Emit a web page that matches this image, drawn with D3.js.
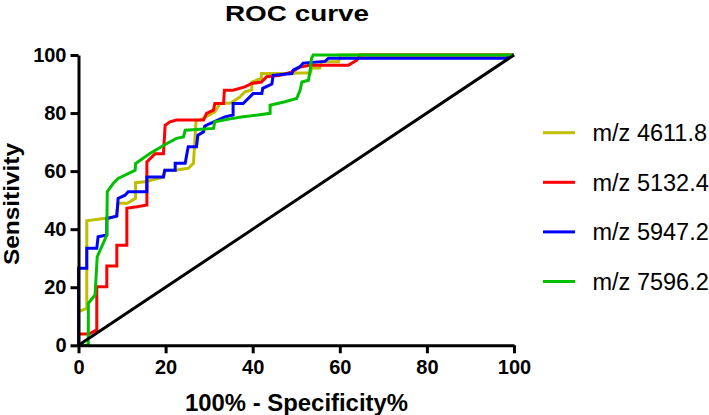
<!DOCTYPE html>
<html>
<head>
<meta charset="utf-8">
<script src="https://cdn.jsdelivr.net/npm/d3@7"></script>
<style>
  html, body { margin: 0; padding: 0; background: #ffffff; }
  svg { display: block; font-family: "Liberation Sans", Arial, sans-serif; }
</style>
</head>
<body>
<svg id="chart" width="709" height="415"></svg>
<script>
// ---- data (x = 100% - Specificity%, y = Sensitivity%) ----
const seriesNames = ["m/z 4611.8", "m/z 5132.4", "m/z 5947.2", "m/z 7596.2"];
const seriesColors = ["#bfbf00", "#ff0000", "#0000ff", "#00c000"];

const fpr_4611 = [0, 0, 1.9, 1.9, 6.2, 8.6, 9.1, 11.2, 13.1, 13.1, 15.3, 19.5, 19.8, 22.2, 25.2, 26.4, 26.6, 27.0, 27.9, 31.3, 32.5, 35.0, 37.1, 38.2, 39.8, 39.8, 42.0, 42.0, 48.6, 50.9, 53.2, 53.6, 55.4, 55.8, 59.7, 60.2, 100];
const tpr_4611 = [0, 11.6, 12.7, 42.9, 43.8, 44.3, 48.9, 48.9, 50.6, 56.0, 56.3, 58.0, 60.3, 60.3, 61.0, 62.7, 67.8, 77.5, 77.6, 80.4, 83.3, 83.5, 85.6, 87.3, 88.0, 90.7, 91.9, 93.6, 93.6, 93.8, 93.8, 95.5, 95.5, 97.7, 97.7, 100, 100];

const fpr_5132 = [0, 0, 2.4, 4.2, 4.2, 6.5, 6.5, 8.8, 8.8, 11.1, 11.1, 13.4, 15.7, 15.7, 17.6, 19.5, 19.9, 21.0, 22.5, 28.7, 29.4, 31.0, 31.3, 33.3, 33.5, 35.5, 38.2, 39.8, 42.0, 43.2, 46.3, 49.0, 50.9, 53.1, 62.0, 63.9, 64.6, 100];
const tpr_5132 = [0, 3.9, 3.9, 5.3, 20.2, 20.2, 27.3, 27.3, 34.5, 34.5, 47.2, 47.7, 48.3, 63.2, 66.0, 66.0, 75.8, 77.0, 77.6, 77.6, 79.9, 81.0, 83.3, 83.3, 87.9, 87.9, 89.0, 90.2, 90.7, 92.5, 93.0, 94.2, 95.9, 96.5, 96.5, 98.2, 100, 100];

const fpr_5947 = [0, 0, 1.9, 1.9, 4.2, 4.5, 6.5, 6.5, 8.8, 9.1, 10.7, 11.4, 15.7, 15.7, 19.5, 19.8, 22.2, 22.2, 24.5, 24.9, 25.2, 27.1, 27.4, 28.7, 29.0, 30.2, 33.6, 35.5, 35.5, 37.8, 40.1, 42.1, 42.3, 44.4, 44.7, 49.0, 49.3, 50.9, 51.6, 56.6, 57.4, 98.0, 100];
const tpr_5947 = [0, 26.5, 26.5, 33.4, 33.4, 37.4, 38.0, 43.7, 44.5, 50.6, 51.7, 52.9, 52.9, 58.0, 58.0, 60.3, 60.3, 62.7, 62.7, 66.1, 68.4, 68.4, 72.4, 73.5, 75.5, 76.4, 78.7, 79.3, 83.3, 83.3, 86.7, 86.7, 88.5, 90.0, 93.0, 93.6, 94.8, 96.0, 97.2, 97.8, 98.9, 98.9, 100];

const fpr_7596 = [0, 2.25, 2.25, 3.8, 4.3, 6.5, 6.6, 8.0, 9.1, 13.0, 13.1, 16.4, 20.3, 22.5, 24.1, 24.5, 31.0, 31.3, 34.8, 37.8, 44.0, 44.0, 47.4, 50.1, 50.9, 51.3, 52.8, 53.2, 53.5, 53.9, 100];
const tpr_7596 = [0, 0, 14.5, 17.3, 30.5, 38.0, 52.9, 55.8, 57.5, 60.3, 62.6, 66.1, 69.5, 71.3, 71.8, 74.1, 74.7, 77.0, 78.0, 78.7, 79.9, 82.7, 83.9, 85.0, 87.9, 90.7, 91.3, 94.8, 98.8, 100, 100];

const refX = [0, 100];
const refY = [0, 100];

const xTicks = [0, 20, 40, 60, 80, 100];
const yTicks = [0, 20, 40, 60, 80, 100];

const titleText = "ROC curve";
const xLabel = "100% - Specificity%";
const yLabel = "Sensitivity";

// ---- build ----
const seriesX = [fpr_4611, fpr_5132, fpr_5947, fpr_7596];
const seriesY = [tpr_4611, tpr_5132, tpr_5947, tpr_7596];
const series = seriesNames.map((name, i) => ({
  name, color: seriesColors[i],
  pts: seriesX[i].map((x, j) => [x, seriesY[i][j]])
}));

const svg = d3.select("#chart");
const x = d3.scaleLinear().domain([0, 100]).range([78.5, 514]);
const y = d3.scaleLinear().domain([0, 100]).range([345.3, 55]);

const line = d3.line().x(d => x(d[0])).y(d => y(d[1]));

// curves
series.forEach(s => {
  svg.append("path")
    .datum(s.pts)
    .attr("d", line)
    .attr("fill", "none")
    .attr("stroke", s.color)
    .attr("stroke-width", 3)
    .attr("stroke-linejoin", "miter");
});

// reference diagonal
svg.append("path")
  .datum(refX.map((v, i) => [v, refY[i]]))
  .attr("d", line)
  .attr("fill", "none")
  .attr("stroke", "#000")
  .attr("stroke-width", 3);

// axes
const xAxis = d3.axisBottom(x).tickValues(xTicks).tickSize(8).tickPadding(7).tickSizeOuter(0);
const yAxis = d3.axisLeft(y).tickValues(yTicks).tickSize(8).tickPadding(4).tickSizeOuter(0);

const gx = svg.append("g").attr("transform", `translate(0,${y(0)})`).call(xAxis);
const gy = svg.append("g").attr("transform", `translate(${x(0)},0)`).call(yAxis);
[gx, gy].forEach(g => {
  g.select(".domain").attr("stroke", "#000").attr("stroke-width", 3);
  g.selectAll(".tick line").attr("stroke", "#000").attr("stroke-width", 3);
  g.selectAll(".tick text")
    .attr("fill", "#000")
    .style("font-size", "20px")
    .style("font-weight", "bold")
    .style("font-family", "'Liberation Sans', Arial, sans-serif");
});

// title
svg.append("text")
  .attr("x", 297).attr("y", 21)
  .attr("text-anchor", "middle")
  .attr("textLength", 144).attr("lengthAdjust", "spacingAndGlyphs")
  .style("font-size", "22px").style("font-weight", "bold")
  .text(titleText);

// axis labels
svg.append("text")
  .attr("x", 296.5).attr("y", 411)
  .attr("text-anchor", "middle")
  .attr("textLength", 223).attr("lengthAdjust", "spacingAndGlyphs")
  .style("font-size", "23px").style("font-weight", "bold")
  .text(xLabel);

svg.append("text")
  .attr("transform", "translate(19,204) rotate(-90)")
  .attr("text-anchor", "middle")
  .attr("textLength", 122).attr("lengthAdjust", "spacingAndGlyphs")
  .style("font-size", "22px").style("font-weight", "bold")
  .text(yLabel);

// legend
const lg = svg.append("g");
series.forEach((s, i) => {
  const cy = 132.7 + i * 49.6;
  lg.append("line")
    .attr("x1", 543).attr("x2", 575)
    .attr("y1", cy).attr("y2", cy)
    .attr("stroke", s.color).attr("stroke-width", 3);
  lg.append("text")
    .attr("x", 592.5).attr("y", cy + 8.5)
    .style("font-size", "23.5px")
    .text(s.name);
});
</script>
</body>
</html>
